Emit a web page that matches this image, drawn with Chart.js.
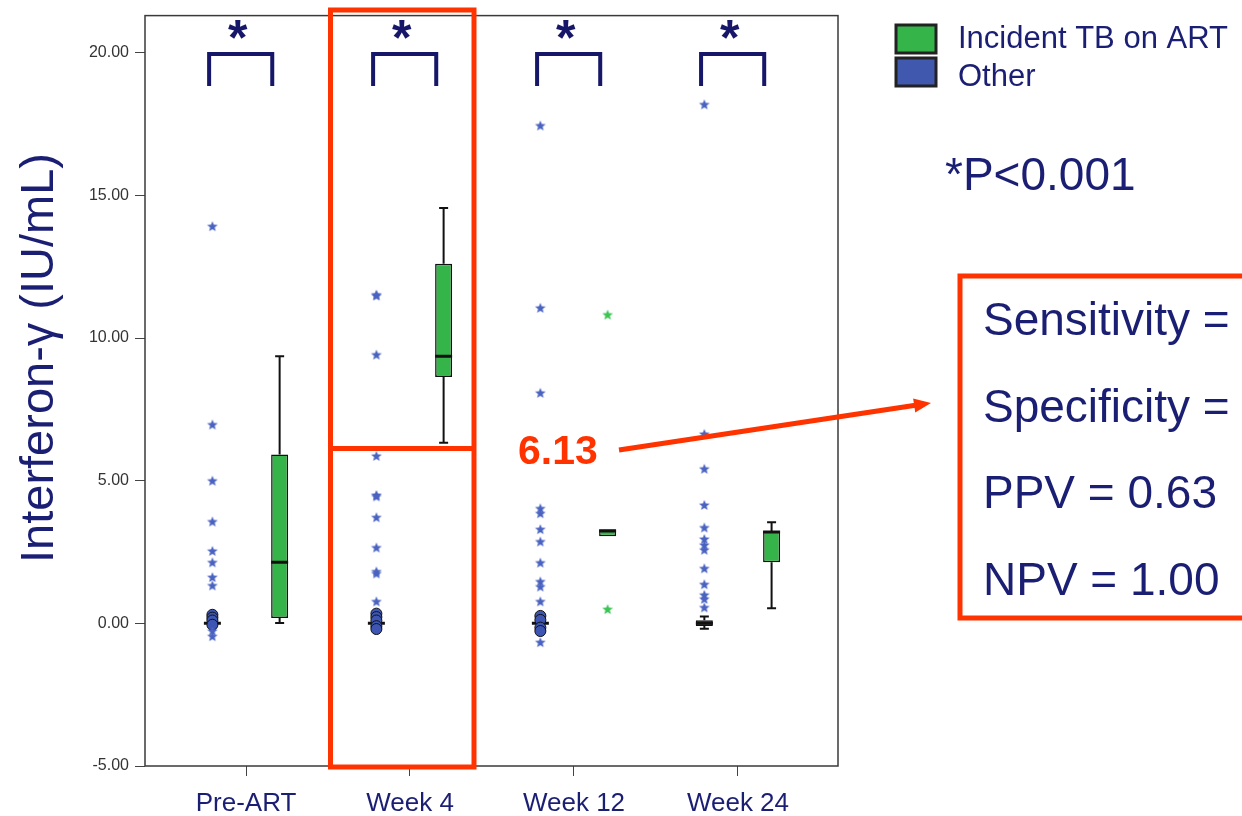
<!DOCTYPE html>
<html>
<head>
<meta charset="utf-8">
<script src="https://cdn.jsdelivr.net/npm/chart.js@4.4.1/dist/chart.umd.min.js"></script>
<style>
  html, body { margin: 0; padding: 0; background: #fff; }
  #wrap { position: relative; width: 1242px; height: 816px; }
</style>
</head>
<body>
<div id="wrap"><canvas id="chartIfn"></canvas></div>
<script>
/* =============================================
   DATA
   ============================================= */
const categories = ['Pre-ART', 'Week 4', 'Week 12', 'Week 24'];
const seriesNames = ['Incident TB on ART', 'Other'];

// box stats per category: [min, q1, median, q3, max]
const tbBoxes = [
  [0.01, 0.19, 2.14, 5.92, 9.36],
  [6.33, 8.63, 9.36, 12.6, 14.56],
  [3.05, 3.05, 3.24, 3.3, 3.3],
  [0.53, 2.14, 3.20, 3.24, 3.54]
];
const otherBoxes = [
  [0, 0, 0, 0.02, 0.04],
  [0, 0, 0, 0.02, 0.04],
  [0, 0, 0, 0.02, 0.04],
  [-0.19, -0.09, 0, 0.11, 0.24]
];

// extreme values (stars)
const tbExtremes = [[], [], [10.82, 0.5], []];
const otherExtremes = [
  [13.92, 6.97, 5.0, 3.57, 2.54, 2.14, 1.62, 1.33, -0.26, -0.45],
  [11.49, 11.52, 9.42, 5.87, 4.5, 4.45, 3.72, 2.66, 1.82, 1.75, 0.77],
  [17.45, 11.06, 8.08, 4.03, 3.86, 3.3, 2.87, 2.13, 1.47, 1.29, 0.77, -0.66],
  [18.19, 6.64, 5.42, 4.15, 3.36, 2.96, 2.75, 2.58, 1.93, 1.37, 1.0, 0.86, 0.56]
];
// outliers (circles)
const otherOutliers = [
  [0.3, 0.2, 0.1, -0.05],
  [0.34, 0.22, 0.1, -0.1, -0.2],
  [0.26, 0.12, -0.15, -0.27],
  []
];

const yTicks = [-5, 0, 5, 10, 15, 20];
const cutoff = 6.13;
const statsLines = ['Sensitivity =', 'Specificity =', 'PPV = 0.63', 'NPV = 1.00'];

/* =============================================
   STYLE
   ============================================= */
const GREEN = '#35b44a';
const BLUE = '#4058ad';
const NAVY = '#1b1f73';
const RED = '#ff3300';
const OFFSET = 0.205;

function makeStar(color) {
  const c = document.createElement('canvas');
  c.width = 12; c.height = 12;
  const g = c.getContext('2d');
  g.beginPath();
  for (let i = 0; i < 10; i++) {
    const r = i % 2 === 0 ? 5.6 : 2.4;
    const a = -Math.PI / 2 + i * Math.PI / 5;
    g.lineTo(6 + r * Math.cos(a), 6.5 + r * Math.sin(a));
  }
  g.closePath();
  g.fillStyle = color;
  g.fill();
  return c;
}
const blueStar = makeStar('#4a63c0');
const greenStar = makeStar('#3cc454');

/* =============================================
   DATASET BUILDERS
   ============================================= */
function xPos(i, group) { return i + 1 + (group === 0 ? OFFSET : -OFFSET); }

function boxDatasets(boxes, group, fill) {
  const pts = (fn) => boxes.map((b, i) => fn(b, xPos(i, group)));
  return [
    {
      type: 'bar', order: 6, grouped: false, maxBarThickness: 2,
      backgroundColor: '#111', borderWidth: 0,
      data: pts((b, x) => ({ x, y: [b[0], b[1]] }))
    },
    {
      type: 'bar', order: 6, grouped: false, maxBarThickness: 2,
      backgroundColor: '#111', borderWidth: 0,
      data: pts((b, x) => ({ x, y: [b[3], b[4]] }))
    },
    {
      type: 'bar', order: 5, grouped: false, maxBarThickness: 17,
      backgroundColor: fill, borderColor: '#111', borderWidth: 1.5, borderSkipped: false,
      data: pts((b, x) => ({ x, y: [b[1], b[3]] }))
    },
    {
      type: 'scatter', order: 4, pointStyle: 'line', pointRadius: 4.5,
      borderColor: '#111', pointBorderWidth: 2,
      data: boxes.flatMap((b, i) => b[0] < b[1] || b[3] < b[4]
        ? [{ x: xPos(i, group), y: b[0] }, { x: xPos(i, group), y: b[4] }] : [])
    },
    {
      type: 'scatter', order: 3, pointStyle: 'line', pointRadius: 8.5,
      borderColor: '#111', pointBorderWidth: 3,
      data: pts((b, x) => ({ x, y: b[2] }))
    }
  ];
}

function pointDataset(values, group, style, extra) {
  return Object.assign({
    type: 'scatter', order: 1, pointStyle: style, pointRadius: 6,
    data: values.flatMap((vals, i) => vals.map(v => ({ x: xPos(i, group), y: v })))
  }, extra || {});
}

/* =============================================
   ANNOTATIONS PLUGIN
   ============================================= */
const annotations = {
  id: 'annotations',
  afterDraw(chart) {
    const { ctx, chartArea: a, scales: { x, y } } = chart;
    ctx.save();

    // plot frame
    ctx.strokeStyle = '#3a3a3a';
    ctx.lineWidth = 1.5;
    ctx.strokeRect(a.left, a.top, a.right - a.left, a.bottom - a.top);

    // significance brackets
    categories.forEach((c, i) => {
      const l = x.getPixelForValue(i + 1 - 0.225);
      const r = x.getPixelForValue(i + 1 + 0.16);
      ctx.strokeStyle = '#17176a';
      ctx.lineWidth = 4;
      ctx.beginPath();
      ctx.moveTo(l, 86); ctx.lineTo(l, 54); ctx.lineTo(r, 54); ctx.lineTo(r, 86);
      ctx.stroke();
      ctx.fillStyle = '#17176a';
      ctx.font = 'bold 50px "Liberation Sans"';
      ctx.textAlign = 'center';
      ctx.textBaseline = 'alphabetic';
      ctx.fillText('*', x.getPixelForValue(i + 1 - 0.05), 55);
    });

    // y axis title
    ctx.save();
    ctx.translate(40, 358);
    ctx.rotate(-Math.PI / 2);
    ctx.fillStyle = NAVY;
    ctx.font = '47px "Liberation Sans"';
    ctx.textAlign = 'center';
    ctx.textBaseline = 'middle';
    ctx.fillText('Interferon-\u03b3 (IU/mL)', 0, 0);
    ctx.restore();

    // Week 4 highlight box with cut-off line
    const yc = y.getPixelForValue(cutoff);
    ctx.strokeStyle = RED;
    ctx.lineWidth = 5;
    ctx.strokeRect(330.5, 10, 143.5, 757);
    ctx.beginPath();
    ctx.moveTo(330.5, yc); ctx.lineTo(474, yc);
    ctx.stroke();

    // cut-off label + arrow
    ctx.fillStyle = RED;
    ctx.font = 'bold 41px "Liberation Sans"';
    ctx.textAlign = 'left';
    ctx.fillText(cutoff.toFixed(2), 518, 464);
    const x1 = 619, y1 = 450, x2 = 931, y2 = 403;
    const ang = Math.atan2(y2 - y1, x2 - x1);
    ctx.beginPath();
    ctx.moveTo(x1, y1);
    ctx.lineTo(x2 - 14 * Math.cos(ang), y2 - 14 * Math.sin(ang));
    ctx.stroke();
    ctx.beginPath();
    ctx.moveTo(x2, y2);
    ctx.lineTo(x2 - 17 * Math.cos(ang) + 7 * Math.sin(ang), y2 - 17 * Math.sin(ang) - 7 * Math.cos(ang));
    ctx.lineTo(x2 - 17 * Math.cos(ang) - 7 * Math.sin(ang), y2 - 17 * Math.sin(ang) + 7 * Math.cos(ang));
    ctx.closePath();
    ctx.fill();

    // stats box
    ctx.strokeRect(960, 276, 320, 342);
    ctx.fillStyle = NAVY;
    ctx.font = '46px "Liberation Sans"';
    statsLines.forEach((t, i) => ctx.fillText(t, 983, 335 + i * 86.5));

    // p value note
    ctx.fillText('*P<0.001', 945, 190);

    // legend
    const legend = [[GREEN, 25], [BLUE, 58]];
    legend.forEach(([col, top], i) => {
      ctx.fillStyle = col;
      ctx.fillRect(896, top, 40, 28);
      ctx.strokeStyle = '#222';
      ctx.lineWidth = 3;
      ctx.strokeRect(896, top, 40, 28);
      ctx.fillStyle = NAVY;
      ctx.font = '31px "Liberation Sans"';
      ctx.fillText(seriesNames[i], 958, 48 + i * 38);
    });

    ctx.restore();
  }
};

/* =============================================
   CHART
   ============================================= */
const datasets = [
  ...boxDatasets(tbBoxes, 0, GREEN),
  ...boxDatasets(otherBoxes, 1, '#111'),
  pointDataset(otherOutliers, 1, 'circle', {
    order: 2, pointRadius: 5.5, backgroundColor: '#3d56b3', borderColor: '#111', borderWidth: 1
  }),
  pointDataset(otherExtremes, 1, blueStar),
  pointDataset(tbExtremes, 0, greenStar)
];

new Chart(document.getElementById('chartIfn'), {
  type: 'bar',
  data: { datasets },
  options: {
    responsive: true,
    maintainAspectRatio: false,
    animation: false,
    layout: { padding: { top: 13, right: 404, bottom: 0, left: 0 } },
    plugins: { legend: { display: false }, tooltip: { enabled: false } },
    scales: {
      x: {
        type: 'linear', min: 0.384, max: 4.61, offset: false,
        border: { display: false },
        grid: { offset: false, drawOnChartArea: false, drawTicks: true, tickLength: 10, color: '#444' },
        afterBuildTicks: s => { s.ticks = categories.map((_, i) => ({ value: i + 1 })); },
        afterFit: s => { s.height = 50; },
        ticks: {
          autoSkip: false, maxRotation: 0, padding: 12,
          color: NAVY, font: { family: 'Liberation Sans', size: 26 },
          callback: v => categories[v - 1]
        }
      },
      y: {
        min: -5, max: 21.3,
        border: { display: false },
        grid: { drawOnChartArea: false, drawTicks: true, tickLength: 10, color: '#444' },
        afterBuildTicks: s => { s.ticks = yTicks.map(v => ({ value: v })); },
        afterFit: s => { s.width = 145; },
        ticks: {
          padding: 6, color: '#333',
          font: { family: 'Liberation Sans', size: 16 },
          callback: v => v.toFixed(2)
        }
      }
    }
  },
  plugins: [annotations]
});
</script>
</body>
</html>
